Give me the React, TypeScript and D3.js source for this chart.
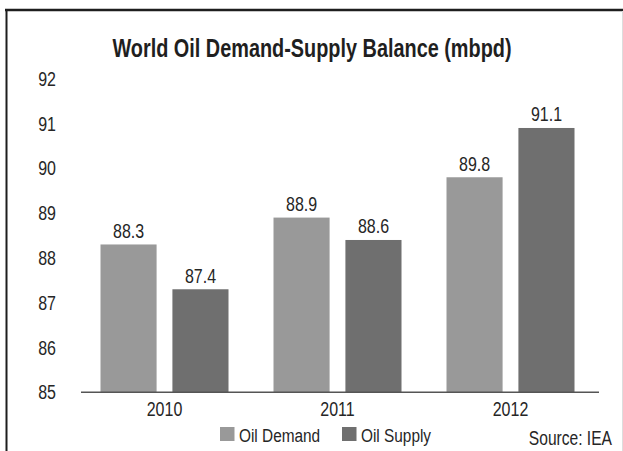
import React from "react";
import * as d3 from "d3";

const years = ["2010", "2011", "2012"];
const series = ["Oil Demand", "Oil Supply"];
const demandValues = [88.3, 88.9, 89.8];
const supplyBarValues = [87.3, 88.4, 90.9];
const demandLabels = ["88.3", "88.9", "89.8"];
const supplyLabels = ["87.4", "88.6", "91.1"];
const yTicks = [85, 86, 87, 88, 89, 90, 91, 92];
const colors = ["#999999", "#6f6f6f"];

const W = 623;
const H = 451;
const FONT = "'Liberation Sans', Arial, sans-serif";
const SX = 0.82;

function CText({ x, y, anchor = "middle", size = 19.5, weight = "normal", sx = SX, fill = "#262626", children }: any) {
  return (
    <text
      transform={`translate(${x},${y}) scale(${sx},1)`}
      textAnchor={anchor}
      fontFamily={FONT}
      fontSize={size}
      fontWeight={weight}
      fill={fill}
    >
      {children}
    </text>
  );
}

export default function App() {
  const x0 = d3.scaleBand<string>().domain(years).range([78, 597]).paddingInner(0).paddingOuter(0);
  const innerPad = 22.5;
  const x1 = d3
    .scaleBand<string>()
    .domain(series)
    .range([innerPad, x0.bandwidth() - innerPad])
    .paddingInner(0.22)
    .paddingOuter(0);
  const y = d3.scaleLinear().domain([85, 92]).range([392.3, 78.7]);

  const data = years.map((yr, i) => ({
    year: yr,
    bars: [
      { s: series[0], v: demandValues[i], label: demandLabels[i] },
      { s: series[1], v: supplyBarValues[i], label: supplyLabels[i] },
    ],
  }));

  return (
    <svg width={W} height={H} style={{ position: "absolute", left: 0, top: 0, background: "#fff" }}>
      <rect x={0} y={0} width={W} height={H} fill="#ffffff" />
      {/* frame */}
      <line x1={5} x2={W} y1={10} y2={10} stroke="#1e1e1e" strokeWidth={2.5} />
      <line x1={6.5} x2={6.5} y1={9} y2={H} stroke="#1e1e1e" strokeWidth={2} />
      <line x1={622.5} x2={622.5} y1={11} y2={H} stroke="#dddddd" strokeWidth={1} />

      {/* title */}
      <CText x={312} y={57} size={26.5} weight="bold" sx={0.75} fill="#1f1f1f">
        World Oil Demand-Supply Balance (mbpd)
      </CText>

      {/* y tick labels */}
      {yTicks.map((t) => (
        <CText key={t} x={56} y={y(t) + 7} anchor="end">
          {String(t)}
        </CText>
      ))}

      {/* bars */}
      {data.map((g) => (
        <g key={g.year} transform={`translate(${x0(g.year)},0)`}>
          {g.bars.map((b, j) => (
            <g key={b.s}>
              <rect
                x={x1(b.s)}
                y={y(b.v)}
                width={x1.bandwidth()}
                height={y(85) - y(b.v)}
                fill={colors[j]}
              />
              <CText x={(x1(b.s) as number) + x1.bandwidth() / 2} y={y(b.v) - 6.5}>
                {b.label}
              </CText>
            </g>
          ))}
          <CText x={x0.bandwidth() / 2} y={415.5}>
            {g.year}
          </CText>
        </g>
      ))}

      {/* baseline */}
      <line x1={81} x2={599} y1={y(85)} y2={y(85)} stroke="#555" strokeWidth={1.6} />

      {/* legend */}
      {series.map((s, i) => {
        const lx = i === 0 ? 220 : 342;
        return (
          <g key={s}>
            <rect x={lx} y={427} width={14.5} height={14} fill={colors[i]} />
            <CText x={lx + 19} y={441.5} anchor="start" size={19} sx={0.81}>
              {s}
            </CText>
          </g>
        );
      })}

      {/* source */}
      <CText x={612} y={444.5} anchor="end" size={19.5} sx={0.8}>
        Source: IEA
      </CText>
    </svg>
  );
}
